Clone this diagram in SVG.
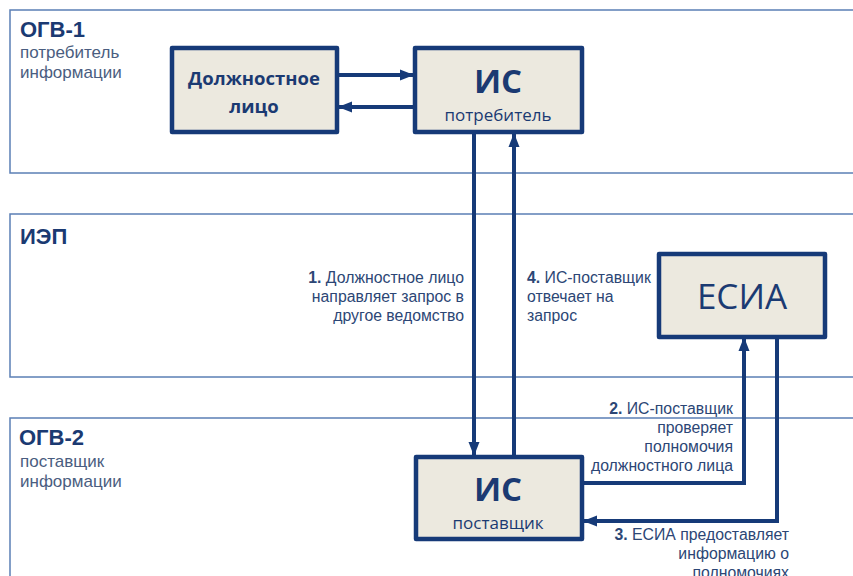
<svg xmlns="http://www.w3.org/2000/svg" width="853" height="576" viewBox="0 0 853 576">
<style>
.panel{fill:#fff;stroke:#5b7fb5;stroke-width:1.5}
.box{fill:#ece9df;stroke:#163a78;stroke-width:4.5;stroke-linejoin:round}
.conn{fill:none;stroke:#163a78;stroke-width:4}
.ptitle{font-family:"Liberation Sans",Arial,sans-serif;font-weight:bold;font-size:22px;fill:#1b3a72}
.psub{font-family:"Liberation Sans",Arial,sans-serif;font-size:17px;fill:#4a5d80}
.btxt{font-family:"Open Sans","Liberation Sans",sans-serif;fill:#1b3a72;text-anchor:middle}
.lbl{font-family:"Liberation Sans",Arial,sans-serif;font-size:15.8px;fill:#2c4675}
.lbl tspan.n{font-weight:bold}
</style>
<defs>
<marker id="ah" markerUnits="userSpaceOnUse" markerWidth="14" markerHeight="14" viewBox="0 0 14 14" refX="13" refY="7" orient="auto">
<path d="M0,1.5 L14,7 L0,12.5 Z" fill="#163a78"/>
</marker>
</defs>
<g id="panels">
<rect class="panel" x="10" y="10" width="860" height="163"/>
<rect class="panel" x="10" y="214" width="860" height="163"/>
<rect class="panel" x="10" y="418" width="860" height="170"/>
<text class="ptitle" x="20" y="37">ОГВ-1</text>
<text class="psub" x="20" y="58">потребитель</text>
<text class="psub" x="20" y="78">информации</text>
<text class="ptitle" x="20" y="244">ИЭП</text>
<text class="ptitle" x="19" y="445">ОГВ-2</text>
<text class="psub" x="20" y="467">поставщик</text>
<text class="psub" x="20" y="487">информации</text>
</g>
<g id="connectors">
<line class="conn" x1="337" y1="75" x2="413" y2="75" marker-end="url(#ah)"/>
<line class="conn" x1="415" y1="107" x2="339" y2="107" marker-end="url(#ah)"/>
<line class="conn" x1="474" y1="132" x2="474" y2="455" marker-end="url(#ah)"/>
<line class="conn" x1="514" y1="457" x2="514" y2="134" marker-end="url(#ah)"/>
<polyline class="conn" points="582,483 744,483 744,338" marker-end="url(#ah)"/>
<polyline class="conn" points="777,336 777,521 584,521" marker-end="url(#ah)"/>
</g>
<g id="node-dl">
<rect class="box" x="172" y="48" width="165" height="84"/>
<text class="btxt" x="254" y="85" font-size="18.5" font-weight="bold">Должностное</text>
<text class="btxt" x="254" y="113" font-size="18.5" font-weight="bold">лицо</text>
</g>
<g id="node-is-consumer">
<rect class="box" x="415" y="48" width="167" height="84"/>
<text class="btxt" x="498" y="93" font-size="33" font-weight="bold">ИС</text>
<text class="btxt" x="498" y="121" font-size="17">потребитель</text>
</g>
<g id="node-esia">
<rect class="box" x="659" y="254" width="166" height="83"/>
<text class="btxt" x="742" y="309" font-size="35">ЕСИА</text>
</g>
<g id="node-is-supplier">
<rect class="box" x="416" y="457" width="166" height="82"/>
<text class="btxt" x="498" y="501" font-size="33" font-weight="bold">ИС</text>
<text class="btxt" x="498" y="529" font-size="17">поставщик</text>
</g>
<g id="labels">
<text class="lbl" text-anchor="end"><tspan x="464" y="283"><tspan class="n">1.</tspan> Должностное лицо</tspan><tspan x="464" y="302">направляет запрос в</tspan><tspan x="464" y="321">другое ведомство</tspan></text>
<text class="lbl"><tspan x="527" y="283"><tspan class="n">4.</tspan> ИС-поставщик</tspan><tspan x="527" y="302">отвечает на</tspan><tspan x="527" y="321">запрос</tspan></text>
<text class="lbl" text-anchor="end"><tspan x="733" y="414"><tspan class="n">2.</tspan> ИС-поставщик</tspan><tspan x="733" y="433">проверяет</tspan><tspan x="733" y="452">полномочия</tspan><tspan x="733" y="471">должностного лица</tspan></text>
<text class="lbl" text-anchor="end"><tspan x="789" y="540"><tspan class="n">3.</tspan> ЕСИА предоставляет</tspan><tspan x="789" y="559">информацию о</tspan><tspan x="789" y="578">полномочиях</tspan></text>
</g>
</svg>
